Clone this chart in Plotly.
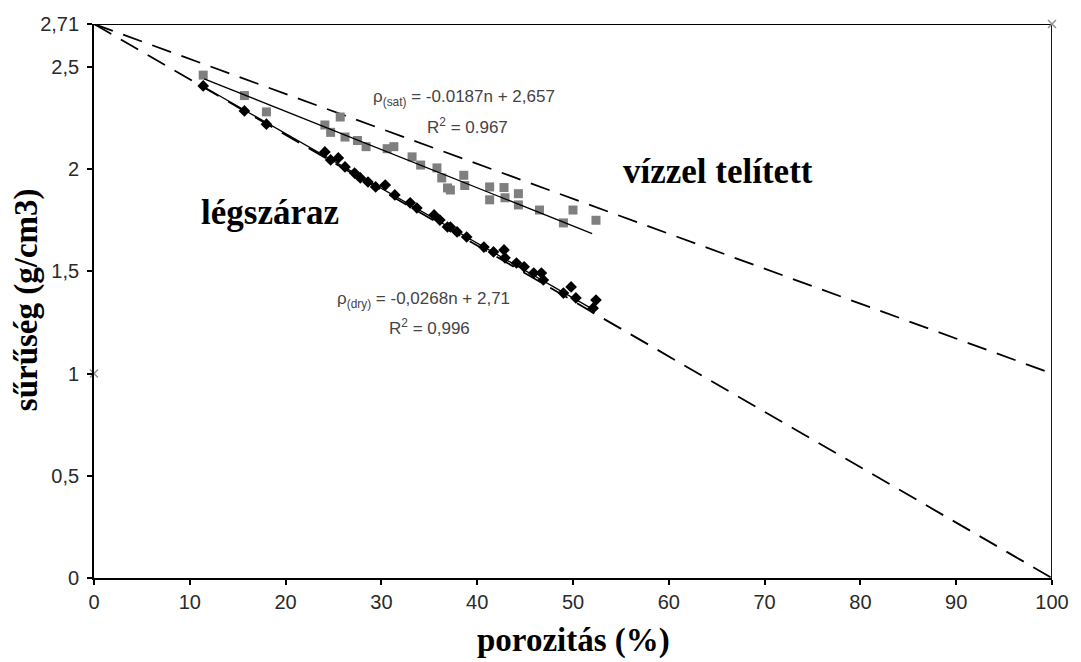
import plotly.graph_objects as go

# porosity (%) and density values
sat_n = [11.4, 15.7, 18.0, 24.1, 25.7, 24.7, 26.2, 27.5, 28.4, 30.6, 31.3, 33.2, 34.1,
         35.8, 36.3, 36.9, 37.2, 38.6, 38.7, 41.3, 41.3, 42.8, 42.9, 44.3, 44.3, 46.5,
         49.0, 50.0, 52.4]
sat_rho = [2.46, 2.36, 2.28, 2.216, 2.255, 2.18, 2.157, 2.14, 2.11, 2.10, 2.11, 2.06, 2.02,
           2.006, 1.957, 1.908, 1.898, 1.97, 1.92, 1.913, 1.85, 1.91, 1.86, 1.88, 1.825, 1.80,
           1.737, 1.80, 1.75]

dry_n = [11.4, 15.7, 18.0, 24.1, 24.7, 25.5, 26.2, 27.2, 27.8, 28.6, 29.4, 30.4, 31.4,
         33.0, 33.7, 35.5, 36.1, 37.2, 36.9, 37.9, 38.9, 40.7, 41.7, 42.8, 42.9, 44.1,
         44.9, 45.9, 46.7, 46.9, 49.0, 49.8, 50.3, 52.4, 52.1]
dry_rho = [2.407, 2.285, 2.22, 2.084, 2.045, 2.055, 2.011, 1.981, 1.957, 1.937, 1.913, 1.922,
           1.874, 1.835, 1.81, 1.776, 1.751, 1.717, 1.717, 1.693, 1.668, 1.619, 1.595, 1.605,
           1.566, 1.541, 1.522, 1.492, 1.492, 1.458, 1.394, 1.424, 1.37, 1.36, 1.32]

# regression lines (from the equations on the chart)
fit_n = [11.5, 52.0]
sat_fit = [-0.0187 * n + 2.657 for n in fit_n]
dry_fit = [-0.0268 * n + 2.71 for n in fit_n]

# theoretical lines
theo_n = [0, 100]
theo_sat = [2.71, 1.0]
theo_dry = [2.71, 0.0]

frame_n = [0, 100, 100]
frame_rho = [2.71, 2.71, 0]

cross_n = [100, 0]
cross_rho = [2.71, 1.0]

x_ticks = [0, 10, 20, 30, 40, 50, 60, 70, 80, 90, 100]
y_ticks = [0, 0.5, 1, 1.5, 2, 2.5, 2.71]
y_tick_text = ["0", "0,5", "1", "1,5", "2", "2,5", "2,71"]

fig = go.Figure()
fig.add_trace(go.Scatter(x=frame_n, y=frame_rho, mode="lines",
                         line=dict(color="black", width=1.8), cliponaxis=False, hoverinfo="skip"))
fig.add_trace(go.Scatter(x=theo_n, y=theo_sat, mode="lines",
                         line=dict(color="black", width=1.8, dash="20px,11px")))
fig.add_trace(go.Scatter(x=theo_n, y=theo_dry, mode="lines",
                         line=dict(color="black", width=1.8, dash="20px,11px")))
fig.add_trace(go.Scatter(x=sat_n, y=sat_rho, mode="markers",
                         marker=dict(symbol="square", size=9, color="#7f7f7f")))
fig.add_trace(go.Scatter(x=fit_n, y=sat_fit, mode="lines",
                         line=dict(color="black", width=1.3)))
fig.add_trace(go.Scatter(x=dry_n, y=dry_rho, mode="markers",
                         marker=dict(symbol="diamond", size=9, color="black")))
fig.add_trace(go.Scatter(x=fit_n, y=dry_fit, mode="lines",
                         line=dict(color="black", width=1.3)))
fig.add_trace(go.Scatter(x=cross_n, y=cross_rho, mode="markers", cliponaxis=False,
                         marker=dict(symbol="x-thin", size=8, color="#909090",
                                     line=dict(color="#909090", width=1.5))))

lab_font = dict(family="Liberation Sans, Arial", size=17, color="#444444")
big_font = dict(family="Liberation Serif, Times New Roman", size=35, color="black")
title_font = dict(family="Liberation Serif, Times New Roman", size=33, color="black")

ann = [
    dict(x=28.9, y=2.348, text="ρ<sub>(sat)</sub> = -0.0187n + 2,657", font=lab_font,
         xanchor="left", yanchor="middle", xref="x", yref="y"),
    dict(x=34.6, y=2.211, text="R<sup>2</sup> = 0.967", font=lab_font,
         xanchor="left", yanchor="middle", xref="x", yref="y"),
    dict(x=55.0, y=1.99, text="<b>vízzel telített</b>", font=big_font,
         xanchor="left", yanchor="middle", xref="x", yref="y"),
    dict(x=11.0, y=1.79, text="<b>légszáraz</b>", font=big_font,
         xanchor="left", yanchor="middle", xref="x", yref="y"),
    dict(x=25.2, y=1.36, text="ρ<sub>(dry)</sub> = -0,0268n + 2,71", font=lab_font,
         xanchor="left", yanchor="middle", xref="x", yref="y"),
    dict(x=30.6, y=1.228, text="R<sup>2</sup> = 0,996", font=lab_font,
         xanchor="left", yanchor="middle", xref="x", yref="y"),
    dict(x=0.5, y=-0.112, text="<b>porozitás (%)</b>", font=title_font,
         xanchor="center", yanchor="middle", xref="paper", yref="paper"),
    dict(x=-0.0696, y=0.502, text="<b>sűrűség (g/cm3)</b>", font=title_font, textangle=-90,
         xanchor="center", yanchor="middle", xref="paper", yref="paper"),
]
for a in ann:
    a.update(showarrow=False)

tick_font = dict(family="Liberation Sans, Arial", size=20, color="#2a2a2a")

fig.update_layout(
    width=1081, height=662,
    margin=dict(l=94, r=21, t=24, b=84),
    paper_bgcolor="white", plot_bgcolor="white",
    showlegend=False,
    annotations=ann,
    xaxis=dict(range=[0, 100], tickvals=x_ticks, ticks="outside", ticklen=5, tickwidth=1.5,
               tickcolor="black", showline=True, linecolor="black", linewidth=1.8,
               showgrid=False, zeroline=False, tickfont=tick_font),
    yaxis=dict(range=[0, 2.71], tickvals=y_ticks, ticktext=y_tick_text, ticks="outside",
               ticklen=5, tickwidth=1.5, tickcolor="black", showline=True, linecolor="black",
               linewidth=1.8, showgrid=False, zeroline=False, tickfont=tick_font,
               ticklabelstandoff=4),
)

fig.write_html("out.html")
